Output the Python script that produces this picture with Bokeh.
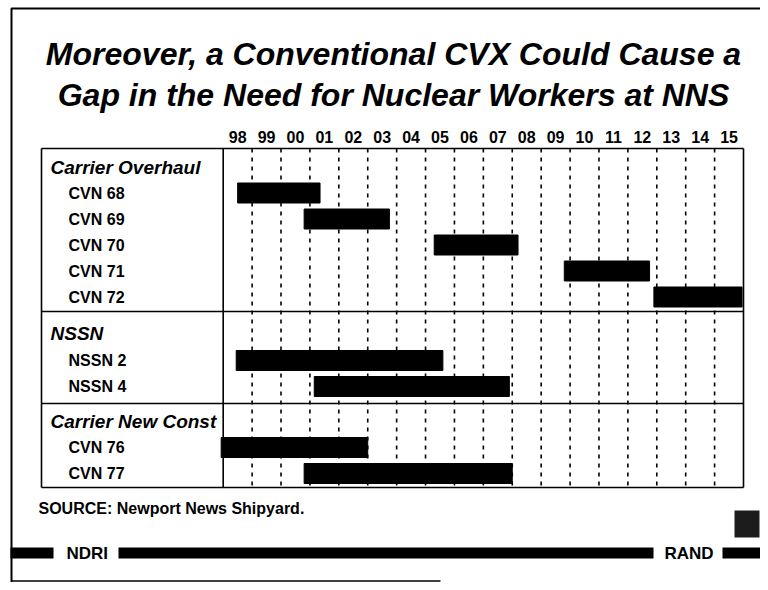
from bokeh.plotting import figure
from bokeh.models import Range1d
from bokeh.core.properties import value
from bokeh.embed import file_html
from bokeh.resources import INLINE

# ---------------- data ----------------
title_lines = ["Moreover, a Conventional CVX Could Cause a",
               "Gap in the Need for Nuclear Workers at NNS"]
years = list(range(1998, 2016))
year_labels = ["98", "99", "00", "01", "02", "03", "04", "05", "06",
               "07", "08", "09", "10", "11", "12", "13", "14", "15"]
group_names = ["Carrier Overhaul", "NSSN", "Carrier New Const"]

overhaul_names = ["CVN 68", "CVN 69", "CVN 70", "CVN 71", "CVN 72"]
overhaul_start = [1998.5, 2000.8, 2005.3, 2009.8, 2012.9]
overhaul_end = [2001.35, 2003.75, 2008.2, 2012.75, 2015.95]

nssn_names = ["NSSN 2", "NSSN 4"]
nssn_start = [1998.45, 2001.15]
nssn_end = [2005.6, 2007.9]

newconst_names = ["CVN 76", "CVN 77"]
newconst_start = [1997.93, 2000.8]
newconst_end = [2003.0, 2008.0]

source_note = "SOURCE:  Newport News Shipyard."
footer_left = "NDRI"
footer_right = "RAND"

# ---------------- layout (picture pixels) ----------------
W, H = 760, 582
PX0, PY0 = 0, 0
BOX_L, BOX_R, BOX_T, BOX_B = 41, 743, 148, 487
DIV_X = 222.7
GROUP_TOP = [148, 311, 403]
HEAD_DY = [18.5, 22, 17.5]
FIRST_DY = [44.5, 49, 44]
PITCH = 26
BAR_H = 20
FONT = value("Liberation Sans")

ppy = (BOX_R - DIV_X) / (years[-1] + 1 - years[0])
x_start = years[0] - (DIV_X - PX0) / ppy
x_end = years[0] + (PX0 + W - DIV_X) / ppy

p = figure(width=W, height=H, output_backend="svg", toolbar_location=None,
           x_range=Range1d(x_start, x_end), y_range=Range1d(PY0 + H, PY0),
           min_border=0, x_axis_location=None, y_axis_location=None)
p.extra_x_ranges = {"px": Range1d(PX0, PX0 + W)}
p.grid.visible = False
p.outline_line_color = None
p.background_fill_color = "white"
p.border_fill_color = "white"

# page frame
p.line(x=[11, 11, 768], y=[590, 8, 8], x_range_name="px",
       line_color="black", line_width=2)
p.line(x=[11, 440], y=[580.5, 580.5], x_range_name="px",
       line_color="black", line_width=1.5)

# title
p.text(x=[393, 393], y=[53, 94], text=title_lines, x_range_name="px",
       text_font=FONT, text_font_size="32px", text_font_style="bold italic",
       text_align="center", text_baseline="middle", text_color="black")

# year labels
p.text(x=[y + 0.5 for y in years], y=[136] * len(years), text=year_labels,
       text_font=FONT, text_font_size="16px", text_font_style="bold",
       text_align="center", text_baseline="middle", text_color="black")

# dashed year boundaries
bounds = years[1:]
p.segment(x0=bounds, y0=[BOX_T] * len(bounds), x1=bounds, y1=[BOX_B] * len(bounds),
          line_color="black", line_width=1.6, line_dash="4 5")

# box
p.segment(x0=[BOX_L, BOX_L, BOX_L, BOX_R, DIV_X] + [BOX_L] * 2,
          y0=[BOX_T, BOX_B, BOX_T, BOX_T, BOX_T] + GROUP_TOP[1:],
          x1=[BOX_R, BOX_R, BOX_L, BOX_R, DIV_X] + [BOX_R] * 2,
          y1=[BOX_T, BOX_B, BOX_B, BOX_B, BOX_B] + GROUP_TOP[1:],
          x_range_name="px", line_color="black", line_width=1.6)

# groups
groups = [(overhaul_names, overhaul_start, overhaul_end),
          (nssn_names, nssn_start, nssn_end),
          (newconst_names, newconst_start, newconst_end)]
for gi, (names, starts, ends) in enumerate(groups):
    top = GROUP_TOP[gi]
    rows = [top + FIRST_DY[gi] + k * PITCH for k in range(len(names))]
    p.text(x=[50], y=[top + HEAD_DY[gi]], text=[group_names[gi]], x_range_name="px",
           text_font=FONT, text_font_size="19px", text_font_style="bold italic",
           text_align="left", text_baseline="middle", text_color="black")
    p.text(x=[68] * len(names), y=rows, text=names, x_range_name="px",
           text_font=FONT, text_font_size="16px", text_font_style="bold",
           text_align="left", text_baseline="middle", text_color="black")
    p.hbar(y=rows, left=starts, right=ends, height=BAR_H,
           fill_color="black", line_color="black", line_width=1)

# source
p.text(x=[38], y=[508], text=[source_note], x_range_name="px",
       text_font=FONT, text_font_size="16px", text_font_style="bold",
       text_align="left", text_baseline="middle", text_color="black")

# footer band
p.quad(left=[10, 118, 722], right=[53, 653, 768], top=[547, 547, 547],
       bottom=[558, 558, 558], x_range_name="px",
       fill_color="black", line_color=None)
p.text(x=[66, 664], y=[553, 553], text=[footer_left, footer_right], x_range_name="px",
       text_font=FONT, text_font_size="17px", text_font_style="bold",
       text_align="left", text_baseline="middle", text_color="black")

# logo square
p.quad(left=[734], right=[759], top=[510], bottom=[537], x_range_name="px",
       fill_color="#1c1c1c", line_color=None)

open("out.html", "w").write(file_html(p, INLINE))
